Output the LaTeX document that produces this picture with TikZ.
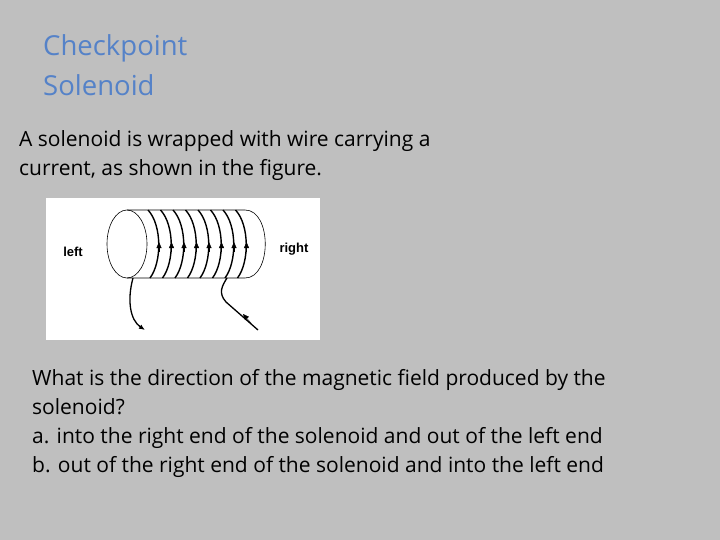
\documentclass[tikz,border=0pt]{standalone}
\usepackage{fontspec}
\setmainfont{Open Sans}
\newfontfamily\lab{Liberation Sans}
\usetikzlibrary{arrows.meta}
\begin{document}
\begin{tikzpicture}[x=1pt,y=-1pt,
 title/.style={anchor=north west,inner sep=0,font=\fontsize{27.5}{40}\selectfont,align=left},
 body/.style={anchor=north west,inner sep=0,font=\fontsize{21}{29}\selectfont,align=left},
 lbl/.style={inner sep=0,font=\lab\bfseries\fontsize{13}{15}\selectfont},
 coil/.style={line width=1.4pt},
 tip/.style={-{Triangle[length=6pt,width=5pt]}},
 wire/.style={line width=1.3pt,-{Latex[length=6pt,width=5pt]}}]
\fill[gray!50] (0,0) rectangle (720,540);
\useasboundingbox (0,0) rectangle (720,540);
\node[title,text={rgb,255:red,85;green,130;blue,200}] (t) at (43,34) {Checkpoint\\Solenoid};
\node[body] (q) at (19,130) {A solenoid is wrapped with wire carrying a\\current, as shown in the figure.};
\node[fill=white,minimum width=274,minimum height=142,inner sep=0,anchor=north west] (fig) at (46,198) {};
\node[lbl] (l) at (73,252) {left};
\node[lbl] (r) at (294,249) {right};
% cylinder
\draw[line width=0.6pt] (127,210) -- (245,210) .. controls (272,210) and (272,278) .. (245,278) -- (127,278);
\draw[line width=0.6pt] (127,244) ellipse[x radius=20,y radius=34];
\foreach \i in {0,...,7}{
  \pgfmathsetmacro\xx{148+12.5*\i}
  \draw[coil] (\xx,210) .. controls (\xx+14,225) and (\xx+14,262) .. (\xx+2,278);
  \draw[tip] (\xx+11,252) -- (\xx+11,242);
}
\coordinate (a1) at (133,278);
\coordinate (a2) at (145,330);
\draw[wire] (a1) .. controls (127,300) and (130,320) .. (a2);
\coordinate (b1) at (227,278);
\coordinate (b2) at (258,330);
\draw[line width=1.3pt] (b1) .. controls (222,286) and (218,293) .. (226,302) -- (b2);
\draw[tip] (251,323) -- (243,314);
\node[body] (q2) at (32,369) {What is the direction of the magnetic field produced by the\\solenoid?\\a. into the right end of the solenoid and out of the left end\\b. out of the right end of the solenoid and into the left end};
\end{tikzpicture}
\end{document}
